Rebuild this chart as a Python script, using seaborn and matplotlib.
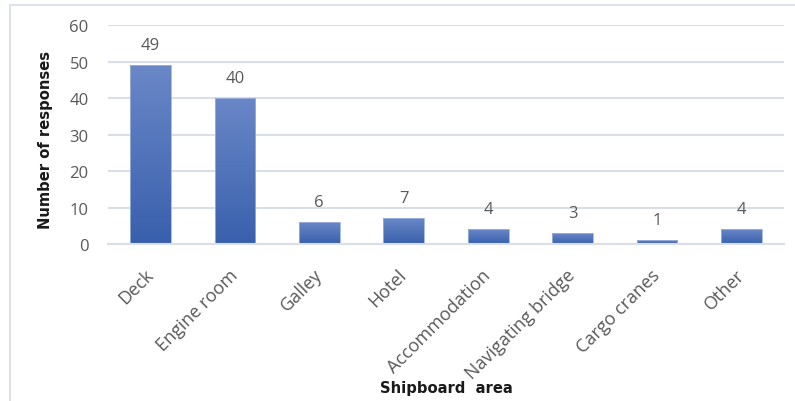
import numpy as np
import matplotlib
matplotlib.use("Agg")
import matplotlib.pyplot as plt
from matplotlib.lines import Line2D
from matplotlib.colors import LinearSegmentedColormap
from matplotlib import font_manager
import seaborn as sns

# Survey responses by shipboard area
areas = ["Deck", "Engine room", "Galley", "Hotel", "Accommodation",
         "Navigating bridge", "Cargo cranes", "Other"]
responses = [49, 40, 6, 7, 4, 3, 1, 4]
y_ticks = [0, 10, 20, 30, 40, 50, 60]

sns.set_theme(style="white")
plt.rcParams["font.family"] = ["Open Sans", "DejaVu Sans"]

TEXT = "#595959"
GRID = "#D9DFE9"

# narrow bold face for the axis titles, if one is installed
names = {f.name for f in font_manager.fontManager.ttflist}
if "Liberation Sans Narrow" in names:
    title_kw = dict(family="Liberation Sans Narrow", fontweight="bold", fontsize=14)
elif "DejaVu Sans Condensed" in names:
    title_kw = dict(family="DejaVu Sans Condensed", fontweight="bold", fontsize=12.8)
else:
    title_kw = dict(family="DejaVu Sans", fontstretch="condensed",
                    fontweight="bold", fontsize=11.8)

fig = plt.figure(figsize=(7.95, 4.02), dpi=100)
ax = fig.add_axes([0.136, 0.3905, 0.850, 0.5448])

sns.barplot(x=areas, y=responses, ax=ax, width=0.48, color="#4A6FB8",
            edgecolor="#9DB2DE", linewidth=0.6, saturation=1)

# vertical gradient fill inside each bar
grad = LinearSegmentedColormap.from_list("bar", ["#3960AD", "#6A87C7"])
g = np.linspace(0, 1, 256).reshape(-1, 1)
for p in ax.patches:
    x0, y0 = p.get_x(), p.get_y()
    w, h = p.get_width(), p.get_height()
    im = ax.imshow(g, cmap=grad, aspect="auto", origin="lower",
                   extent=[x0, x0 + w, y0, y0 + h], zorder=p.get_zorder())
    im.set_clip_path(p)
    p.set_facecolor("none")
    p.set_zorder(p.get_zorder() + 0.1)

ax.set_xlim(-0.5, len(areas) - 0.5)
ax.set_ylim(0, 60)
ax.set_yticks(y_ticks)
ax.yaxis.grid(True, color=GRID, linewidth=1.5)
ax.set_axisbelow(True)
for s in ["top", "right", "left"]:
    ax.spines[s].set_visible(False)
ax.spines["bottom"].set_color(GRID)
ax.spines["bottom"].set_linewidth(1.5)

ax.tick_params(axis="y", length=0, pad=14, labelsize=12, labelcolor=TEXT)
ax.tick_params(axis="x", length=0, pad=20, labelsize=13, labelcolor=TEXT)
for lbl in ax.get_xticklabels():
    lbl.set_rotation(45)
    lbl.set_ha("right")
    lbl.set_va("center")
    lbl.set_rotation_mode("anchor")

ax.bar_label(ax.containers[0], labels=[str(v) for v in responses],
             padding=9, fontsize=12, color=TEXT)

ax.set_ylabel("Number of responses", color="#1a1a1a", **title_kw)
ax.set_xlabel("Shipboard  area", color="#1a1a1a", **title_kw)
ax.xaxis.set_label_coords(0.5, -0.62)
ax.yaxis.set_label_coords(-0.082, 0.48)

# thin frame along the top and left edges
fig.add_artist(Line2D([10 / 795, 1.0], [1 - 6 / 402, 1 - 6 / 402],
                      transform=fig.transFigure, color="#DCE1EA", lw=1.5))
fig.add_artist(Line2D([10 / 795, 10 / 795], [0, 1 - 6 / 402],
                      transform=fig.transFigure, color="#DCE1EA", lw=1.5))

fig.savefig("out.png", dpi=100)
